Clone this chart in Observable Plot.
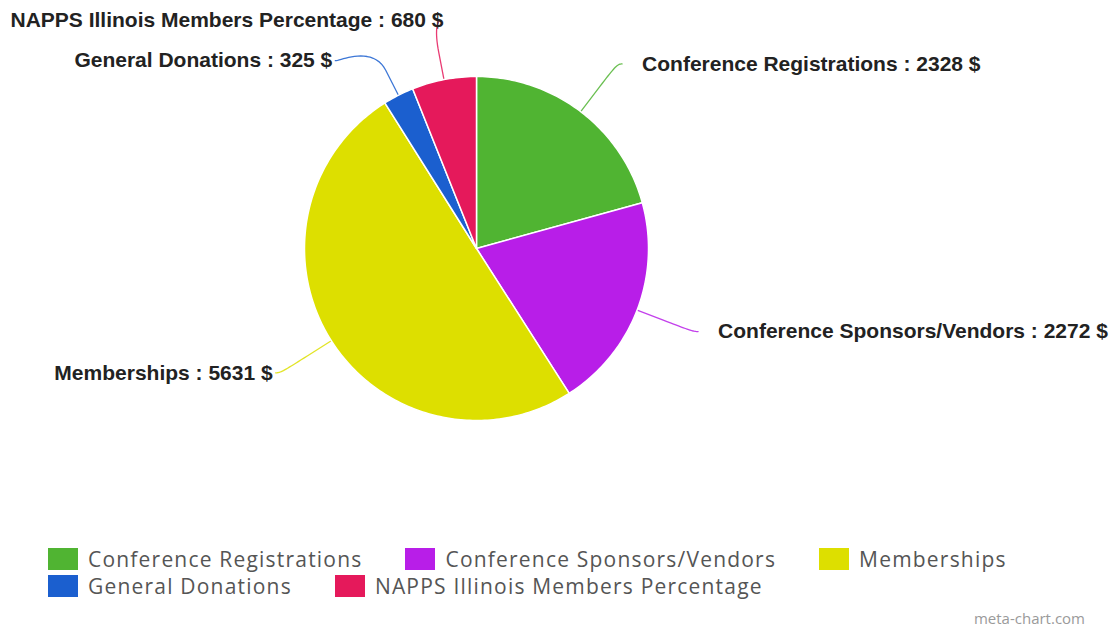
<!DOCTYPE html>
<html><head><meta charset="utf-8">
<script src="https://cdn.jsdelivr.net/npm/d3@7"></script>
<script src="https://cdn.jsdelivr.net/npm/@observablehq/plot@0.6"></script>
<style>
body{margin:0;background:#fff;width:1113px;height:630px;overflow:hidden;position:relative;font-family:"Open Sans",sans-serif;}
#chart svg{display:block;overflow:hidden}
#legend{position:absolute;left:48px;top:545px;width:1040px;display:flex;flex-wrap:wrap;column-gap:43px;}
.item{display:flex;align-items:center;height:27px;font-size:21px;letter-spacing:1.2px;color:#555;white-space:nowrap}
.sw{width:30px;height:22px;margin-right:10px;flex:none}
#credit{position:absolute;right:28px;top:608px;font-size:15px;color:#9a9a9a;}
</style></head><body>
<div id="chart"></div><div id="legend"></div><div id="credit">meta-chart.com</div>
<script>
const categories = ["Conference Registrations", "Conference Sponsors/Vendors", "Memberships", "General Donations", "NAPPS Illinois Members Percentage"];
const values = [2328, 2272, 5631, 325, 680];
const colors = ["#50b432", "#b81ee8", "#dddf00", "#1b5fcf", "#e5195b"];
const unit = "$";

// layout
const W = 1113, H = 545;
const cx = 476, cy = 248, r = 172;
const labelR = 232, breakR = 200, minGap = 40, edgePad = 10;
const fontSpec = "bold 21px 'Liberation Sans', Arial, sans-serif";

const rows = categories.map((name, i) => ({name, value: values[i], color: colors[i]}));
const arcs = d3.pie().sort(null).value(d => d.value)(rows);
const pt = (a, rad) => [cx + rad * Math.sin(a), cy - rad * Math.cos(a)];

// slice polygons
const poly = [];
arcs.forEach(a => {
  const name = a.data.name;
  poly.push({name, x: cx, y: cy});
  const n = Math.max(2, Math.ceil((a.endAngle - a.startAngle) / (Math.PI / 180)));
  for (let k = 0; k <= n; k++) {
    const t = a.startAngle + (a.endAngle - a.startAngle) * k / n;
    const [x, y] = pt(t, r);
    poly.push({name, x, y});
  }
  poly.push({name, x: cx, y: cy});
});

// text measurement
const ctx = document.createElement("canvas").getContext("2d");
ctx.font = fontSpec;

// labels with simple collision avoidance per side
const labels = arcs.map(a => {
  const mid = (a.startAngle + a.endAngle) / 2;
  const side = Math.sin(mid) >= 0 ? 1 : -1;
  return {name: a.data.name, value: a.data.value, mid, side, y: cy - labelR * Math.cos(mid)};
});
for (const s of [1, -1]) {
  const L = labels.filter(d => d.side === s).sort((a, b) => a.y - b.y);
  for (let i = 1; i < L.length; i++) if (L[i].y - L[i - 1].y < minGap) L[i].y = L[i - 1].y + minGap;
}
labels.forEach(d => {
  d.text = `${d.name} : ${d.value} ${unit}`;
  const dy = d.y - cy;
  const cxl = cx + d.side * Math.sqrt(Math.max(0, labelR * labelR - dy * dy));
  d.cxl = cxl;
  d.xe = cxl + d.side * 5;
  d.tx = d.side > 0 ? d.xe + 20 : d.xe - 3;
  if (d.side < 0) {
    const w = ctx.measureText(d.text).width;
    if (d.tx - w < edgePad) { d.tx = edgePad + w; d.xe = d.tx - 4; d.cxl = d.xe; }
  }
});

// connectors (soft bezier + straight segment to the slice edge)
const conn = [];
labels.forEach(d => {
  const [bx, by] = pt(d.mid, breakR);
  const [ex, ey] = pt(d.mid, r);
  const P0 = [d.xe, d.y], P1 = [d.cxl, d.y], P2 = [2 * bx - ex, 2 * by - ey], P3 = [bx, by];
  for (let k = 0; k <= 20; k++) {
    const t = k / 20, u = 1 - t;
    const x = u*u*u*P0[0] + 3*u*u*t*P1[0] + 3*u*t*t*P2[0] + t*t*t*P3[0];
    const y = u*u*u*P0[1] + 3*u*u*t*P1[1] + 3*u*t*t*P2[1] + t*t*t*P3[1];
    conn.push({name: d.name, x, y});
  }
  conn.push({name: d.name, x: ex, y: ey});
});

const font = {fontFamily: "'Liberation Sans', Arial, sans-serif", fontSize: 21, fontWeight: "bold", fill: "#222"};
const chart = Plot.plot({
  width: W, height: H,
  margin: 0,
  x: {domain: [0, W], range: [0, W], axis: null},
  y: {domain: [0, H], range: [0, H], axis: null},
  color: {domain: categories, range: colors},
  marks: [
    Plot.line(conn, {x: "x", y: "y", z: "name", stroke: "name", strokeWidth: 1.3, strokeOpacity: 0.85}),
    Plot.line(poly, {x: "x", y: "y", z: "name", fill: "name", stroke: "white", strokeWidth: 1.5, strokeLinejoin: "round"}),
    Plot.text(labels.filter(d => d.side > 0), {x: "tx", y: "y", text: "text", textAnchor: "start", ...font}),
    Plot.text(labels.filter(d => d.side < 0), {x: "tx", y: "y", text: "text", textAnchor: "end", ...font})
  ]
});
document.getElementById("chart").append(chart);

const leg = document.getElementById("legend");
categories.forEach((c, i) => {
  const it = document.createElement("div");
  it.className = "item";
  it.innerHTML = `<span class="sw" style="background:${colors[i]}"></span><span>${c}</span>`;
  leg.append(it);
});
</script>
</body></html>
